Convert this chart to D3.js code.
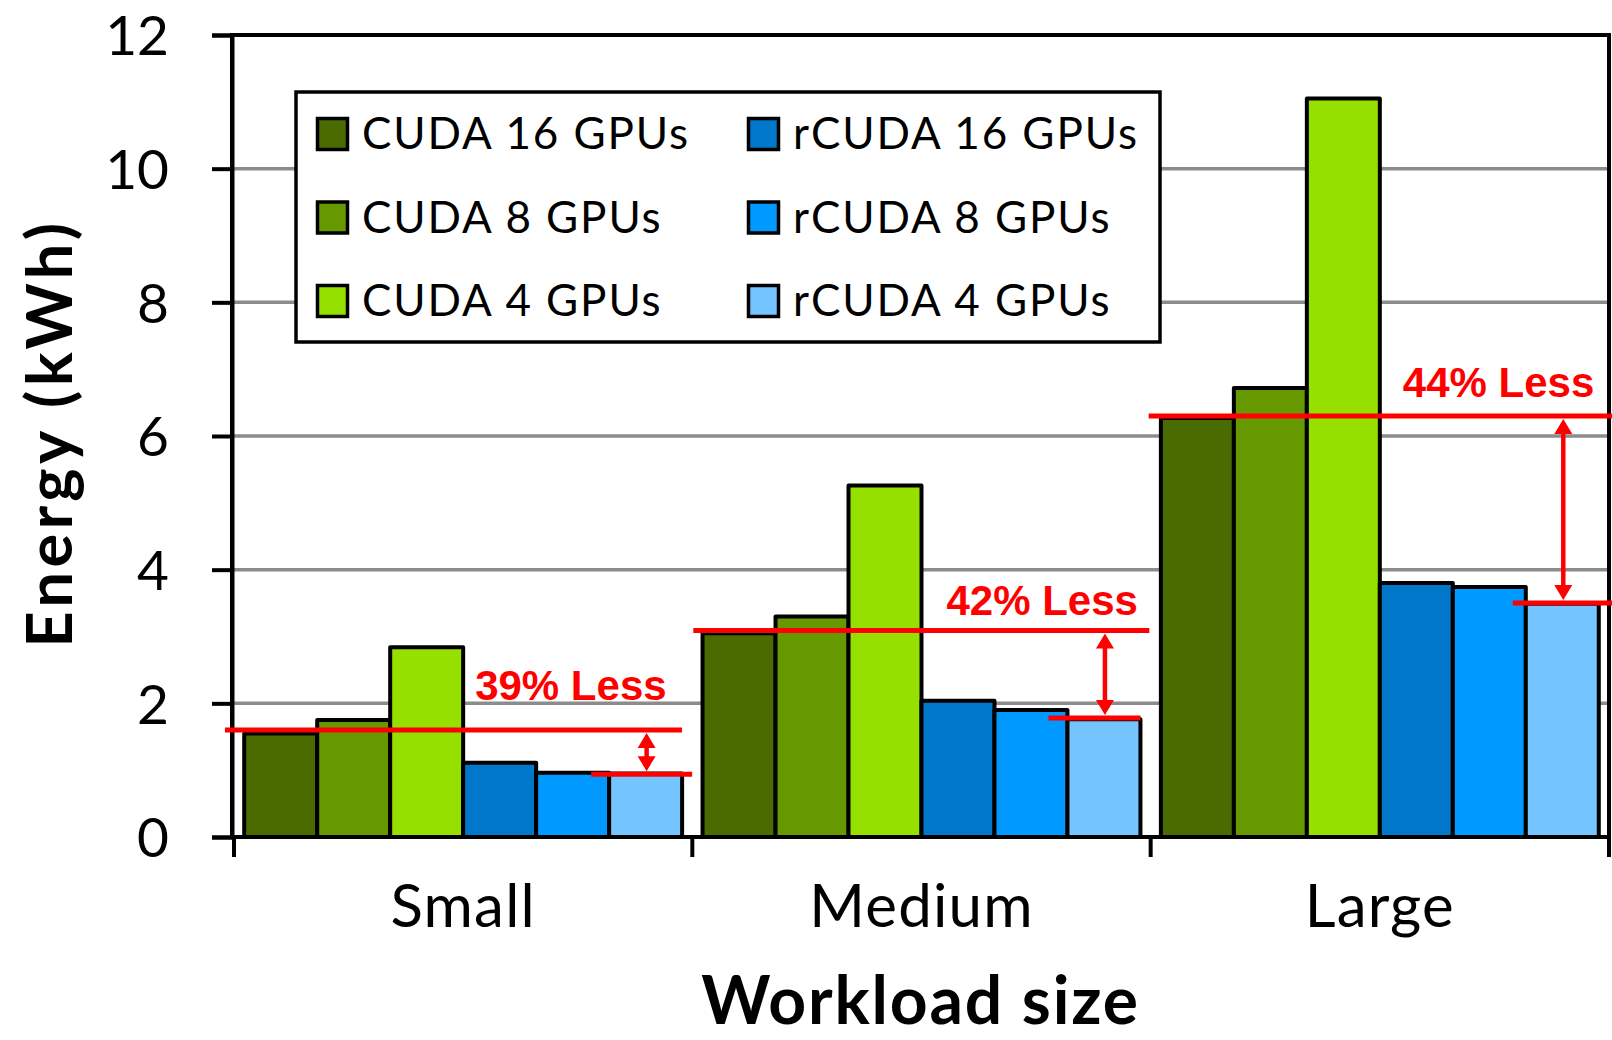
<!DOCTYPE html>
<html>
<head>
<meta charset="utf-8">
<script src="https://cdn.jsdelivr.net/npm/d3@7"></script>
<style>
  html, body { margin: 0; padding: 0; background: #fff; }
  svg { display: block; }
</style>
</head>
<body>
<svg id="chart" width="1612" height="1040"></svg>
<script>
// ---------- data ----------
const categories = ["Small", "Medium", "Large"];
const series = ["CUDA 16 GPUs", "CUDA 8 GPUs", "CUDA 4 GPUs", "rCUDA 16 GPUs", "rCUDA 8 GPUs", "rCUDA 4 GPUs"];
const cuda16  = [1.55, 3.05, 6.27];
const cuda8   = [1.75, 3.30, 6.72];
const cuda4   = [2.84, 5.26, 11.05];
const rcuda16 = [1.11, 2.04, 3.80];
const rcuda8  = [0.96, 1.90, 3.74];
const rcuda4  = [0.95, 1.76, 3.49];
const yTicks = [0, 2, 4, 6, 8, 10, 12];
const savingLabels = ["39% Less", "42% Less", "44% Less"];
const cudaRef  = [1.60, 3.09, 6.30];
const rcudaRef = [0.94, 1.78, 3.50];

const values = [cuda16, cuda8, cuda4, rcuda16, rcuda8, rcuda4];
const colors = ["#4a6b00", "#669900", "#96e000", "#0077c8", "#0099ff", "#73c4ff"];

// ---------- layout ----------
(function () {
const svg = d3.select("#chart");
const pL = 232, pR = 1609, pT = 35, pB = 837;

const x0 = d3.scaleBand().domain(categories).range([pL + 2, pR]);
const x1 = d3.scaleBand().domain(series).range([0, x0.bandwidth()]).paddingOuter(0.14);
const y = d3.scaleLinear().domain([0, 12]).range([pB, pT]);
const color = d3.scaleOrdinal().domain(series).range(colors);

// gridlines
svg.append("g").selectAll("line")
  .data(yTicks.filter(t => t > 0 && t < 12))
  .join("line")
  .attr("x1", pL).attr("x2", pR)
  .attr("y1", d => y(d)).attr("y2", d => y(d))
  .attr("stroke", "#8c8c8c").attr("stroke-width", 3.5);

// frame
svg.append("rect")
  .attr("x", pL).attr("y", pT)
  .attr("width", pR - pL).attr("height", pB - pT)
  .attr("fill", "none").attr("stroke", "#000").attr("stroke-width", 4);

// y axis
const yAxis = svg.append("g")
  .attr("transform", `translate(${pL},0)`)
  .call(d3.axisLeft(y).tickValues(yTicks).tickSize(20).tickPadding(43).tickFormat(d3.format("d")));
yAxis.select(".domain").attr("stroke", "#000").attr("stroke-width", 4);
yAxis.selectAll(".tick line").attr("stroke", "#000").attr("stroke-width", 4);
yAxis.selectAll(".tick text")
  .attr("font-family", "Lato").attr("font-size", 55).attr("fill", "#000").attr("dy", "0.36em");

// x axis ticks (category boundaries)
const bounds = categories.map(c => x0(c)).concat([x0(categories[categories.length - 1]) + x0.bandwidth()]);
svg.append("g").selectAll("line")
  .data(bounds).join("line")
  .attr("x1", d => d).attr("x2", d => d)
  .attr("y1", pB).attr("y2", pB + 20)
  .attr("stroke", "#000").attr("stroke-width", 4);

svg.append("g").selectAll("text")
  .data(categories).join("text")
  .attr("x", d => x0(d) + x0.bandwidth() / 2)
  .attr("y", 927)
  .attr("text-anchor", "middle")
  .attr("font-family", "Lato").attr("font-size", 60).attr("letter-spacing", 1.2).attr("fill", "#000")
  .text(d => d);

// bars
const groups = svg.append("g").selectAll("g")
  .data(categories).join("g")
  .attr("transform", d => `translate(${x0(d)},0)`);
groups.selectAll("rect")
  .data((c, ci) => series.map((s, si) => ({ s, v: values[si][ci] })))
  .join("rect")
  .attr("x", d => x1(d.s))
  .attr("width", x1.bandwidth())
  .attr("y", d => y(d.v))
  .attr("height", d => y(0) - y(d.v))
  .attr("fill", d => color(d.s))
  .attr("stroke", "#000").attr("stroke-width", 4)
  .attr("stroke-linejoin", "round");

// redraw baseline over bars
svg.append("line")
  .attr("x1", pL).attr("x2", pR).attr("y1", pB).attr("y2", pB)
  .attr("stroke", "#000").attr("stroke-width", 4);

// annotations
const red = "#ff0000";
const annLayout = [
  { u0: -9, u1: 448, l0: -18, l1: 10, lx: 20, ly: -30 },
  { u0: 1, u1: 457, l0: -19, l1: 0, lx: 33, ly: -15 },
  { u0: -2, u1: 470, l0: -13, l1: 50, lx: 31, ly: -19 }
];
const ann = svg.append("g");
categories.forEach((c, i) => {
  const L = annLayout[i];
  const gx = x0(c);
  const bx = gx + x1(series[5]);
  const ax = bx + x1.bandwidth() / 2 + 1;
  const yh = y(cudaRef[i]), yl = y(rcudaRef[i]);
  ann.append("line").attr("x1", gx + L.u0).attr("x2", gx + L.u1)
    .attr("y1", yh).attr("y2", yh).attr("stroke", red).attr("stroke-width", 5);
  ann.append("line").attr("x1", bx + L.l0).attr("x2", bx + x1.bandwidth() + L.l1)
    .attr("y1", yl).attr("y2", yl).attr("stroke", red).attr("stroke-width", 5);
  const ah = 15, aw = 9;
  ann.append("line").attr("x1", ax).attr("x2", ax)
    .attr("y1", yh + ah).attr("y2", yl - ah)
    .attr("stroke", red).attr("stroke-width", 4.5);
  const p = d3.path();
  p.moveTo(ax, yh + 3); p.lineTo(ax - aw, yh + 3 + ah); p.lineTo(ax + aw, yh + 3 + ah); p.closePath();
  p.moveTo(ax, yl - 3); p.lineTo(ax - aw, yl - 3 - ah); p.lineTo(ax + aw, yl - 3 - ah); p.closePath();
  ann.append("path").attr("d", p.toString()).attr("fill", red);
  ann.append("text")
    .attr("x", ax + L.lx).attr("y", yh + L.ly)
    .attr("text-anchor", "end")
    .attr("font-family", "Liberation Sans, Arial, sans-serif").attr("font-weight", "bold")
    .attr("font-size", 42).attr("fill", red)
    .text(savingLabels[i]);
});

// legend
const leg = svg.append("g");
leg.append("rect").attr("x", 296).attr("y", 92).attr("width", 864).attr("height", 250)
  .attr("fill", "#fff").attr("stroke", "#000").attr("stroke-width", 3.5);
const legItems = leg.selectAll("g.item").data(series).join("g")
  .attr("class", "item")
  .attr("transform", (d, i) => `translate(${i < 3 ? 316 : 747},${134 + (i % 3) * 83.5})`);
legItems.append("rect").attr("x", 1.5).attr("y", -15.5).attr("width", 30).attr("height", 31)
  .attr("fill", d => color(d)).attr("stroke", "#000").attr("stroke-width", 3.5);
legItems.append("text").attr("x", 46).attr("y", 15)
  .attr("font-family", "Lato").attr("font-size", 44).attr("letter-spacing", 1.9).attr("fill", "#000")
  .text(d => d);

// axis titles
svg.append("text")
  .attr("x", (pL + pR) / 2).attr("y", 1024)
  .attr("text-anchor", "middle")
  .attr("font-family", "Lato").attr("font-weight", "bold").attr("font-size", 66)
  .attr("letter-spacing", 1.8).attr("fill", "#000")
  .text("Workload size");
svg.append("text")
  .attr("transform", `translate(72,${(pT + pB) / 2 - 3}) rotate(-90)`)
  .attr("text-anchor", "middle")
  .attr("font-family", "Lato").attr("font-weight", "bold").attr("font-size", 63)
  .attr("letter-spacing", 4.5).attr("fill", "#000")
  .text("Energy (kWh)");
})();
</script>
</body>
</html>
